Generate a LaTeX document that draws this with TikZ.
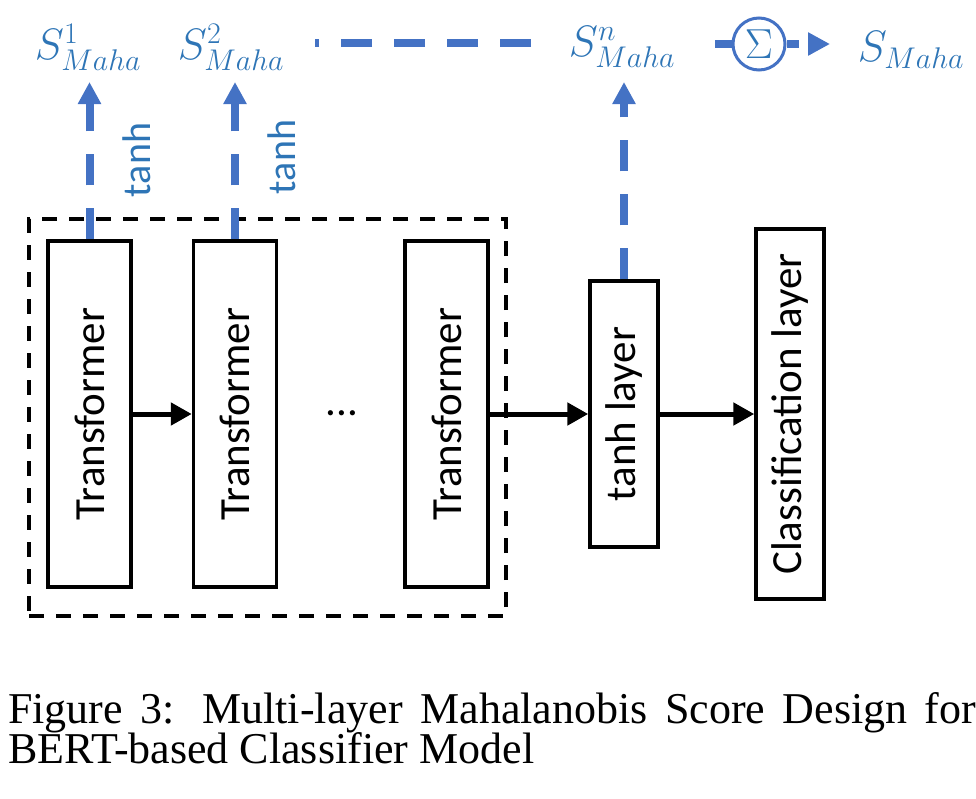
\RequirePackage{fix-cm}
\documentclass[tikz,border=0pt]{standalone}
\usepackage{fontspec}
\setmainfont{Liberation Serif}
\setsansfont{Carlito}
\usetikzlibrary{arrows.meta}
\definecolor{lblue}{HTML}{4472C4}
\definecolor{tblue}{HTML}{2E75B6}
\renewcommand\defaultscriptratio{.68}
\begin{document}
\begin{tikzpicture}[x=1pt,y=-1pt,
 box/.style={draw, line width=3.5pt, inner sep=0pt, font=\sffamily\fontsize{43}{50}\selectfont},
 flow/.style={line width=5pt, -{Triangle[length=21pt,width=22pt]}},
 score/.style={lblue, line width=8pt, dash pattern=on 31pt off 23pt, -{Triangle[length=22pt,width=22pt]}},
 slabel/.style={text=tblue, font=\fontsize{44}{50}\selectfont, inner sep=0pt},
 tlabel/.style={text=tblue, font=\sffamily\fontsize{40}{48}\selectfont, rotate=90, inner sep=0pt},
 bline/.style={lblue, line width=8pt},
 caption/.style={anchor=base west, inner sep=0pt, font=\fontsize{44}{50}\selectfont}]
\useasboundingbox (0,0) rectangle (976,798);
% group frame
\node[draw, line width=3.5pt, dash pattern=on 15pt off 12pt, minimum width=477pt, minimum height=397pt, inner sep=0pt] (grp) at (267.5,417.5) {};
% boxes
\node[box, minimum width=83pt, minimum height=346pt] (t1) at (89.5,414) {\rotatebox{90}{Transformer}};
\node[box, minimum width=83pt, minimum height=346pt] (t2) at (235,414) {\rotatebox{90}{Transformer}};
\node[box, minimum width=83pt, minimum height=346pt] (t3) at (446.5,414) {\rotatebox{90}{Transformer}};
\node[box, minimum width=68pt, minimum height=266pt] (th) at (624,414) {\rotatebox{90}{tanh layer}};
\node[box, minimum width=68pt, minimum height=370pt] (cl) at (790,414) {\rotatebox{90}{Classification layer}};
\node[font=\sffamily\fontsize{43}{50}\selectfont, inner sep=0pt] (dots) at (342,413) {...};
% black flow arrows
\draw[flow] (t1.east) -- (t2.west);
\draw[flow] (t3.east) -- (th.west);
\draw[flow] (th.east) -- (cl.west);
% score labels
\node[slabel] (s1) at (88,47) {$S^{1}_{Maha}$};
\node[slabel] (s2) at (231,47) {$S^{2}_{Maha}$};
\node[slabel] (sn) at (622,47) {$S^{n}_{Maha}$};
\node[slabel] (s) at (911,50) {$S_{Maha}$};
\node[tlabel] (tanh1) at (137,160) {tanh};
\node[tlabel] (tanh2) at (282,157) {tanh};
% blue score arrows
\coordinate (a1) at (89.5,82);
\coordinate (a2) at (235,82);
\coordinate (an) at (624,82);
\draw[score] (t1.north) -- (a1);
\draw[score] (t2.north) -- (a2);
\draw[score] (th.north) -- (an);
% horizontal dashed line and sum
\coordinate (h0) at (315,43);
\coordinate (h1) at (531,43);
\draw[bline, dash pattern=on 31pt off 22pt] (h1) -- (h0);
\node[circle, draw=lblue, line width=3pt, minimum size=52pt, inner sep=0pt, text=tblue, font=\fontsize{42}{46}\selectfont] (sig) at (759,44) {$\Sigma$};
\coordinate (h2) at (715,44);
\coordinate (h3) at (830,44);
\draw[bline] (h2) -- (sig.west);
\draw[bline, dash pattern=on 12pt off 11pt, -{Triangle[length=22pt,width=22pt]}] (sig.east) -- (h3);
% caption
\node[caption] (cap1) at (8,723) {\makebox[968pt][s]{Figure 3: Multi-layer Mahalanobis Score Design for}};
\node[caption] (cap2) at (8,763) {BERT-based Classifier Model};
\end{tikzpicture}
\end{document}
